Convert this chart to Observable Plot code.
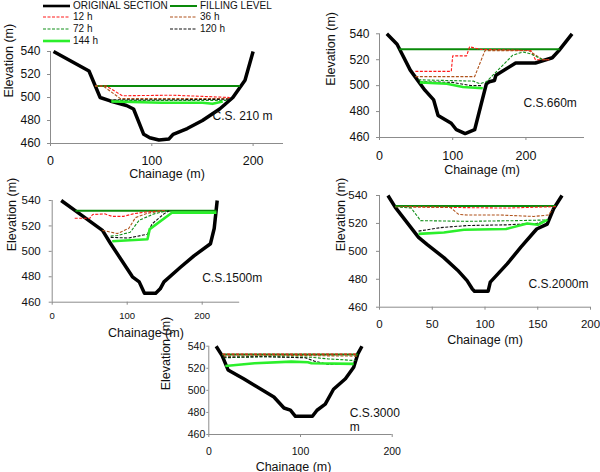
<!DOCTYPE html>
<html><head><meta charset="utf-8">
<script src="https://cdn.jsdelivr.net/npm/d3@7"></script>
<script src="https://cdn.jsdelivr.net/npm/@observablehq/plot@0.6"></script>
<style>
html,body{margin:0;padding:0;background:#fff;}
#chart{position:relative;width:600px;height:472px;overflow:hidden;font-family:"Liberation Sans",Arial,sans-serif;}
.panel{position:absolute;}
.leg{position:absolute;display:flex;align-items:center;font-size:10px;line-height:10px;white-space:nowrap;color:#111;}
.leg svg{display:block;margin-right:2px;}
</style></head><body><div id="chart"></div><script>
// ---- series ----
const seriesNames = ["ORIGINAL SECTION", "FILLING LEVEL", "12 h", "36 h", "72 h", "120 h", "144 h"];
const yTicks = [460, 480, 500, 520, 540];
const panelNames = ["C.S. 210 m", "C.S.660m", "C.S.1500m", "C.S.2000m", "C.S.3000\nm"];

// C.S. 210 m
const cs210_section = [[3,540],[38,523],[49,500],[59,497],[75,493],[82,490],[92,468],[98,465],[107,463],[117,464],[121,468],[135,473],[150,480],[167,490],[180,500],[192,515],[200,540]];
const cs210_fill = [[44,510],[187,510]];
const cs210_h12 = [[44,510],[55,510],[71,501.5],[120,502],[150,501],[177,500]];
const cs210_h36 = [[44,510],[52,510],[69,499],[120,499],[177,499]];
const cs210_h72 = [[60,497.5],[120,497.5],[175,497.5]];
const cs210_h120 = [[62,498],[120,498],[178,498.5]];
const cs210_h144 = [[60,496.5],[110,495.5],[150,495.5],[160,494.5],[170,496.5]];

// C.S. 660 m
const cs660_section = [[10,540],[24,532],[42,512],[62,496.5],[74,489],[80,477],[98,471],[105,466],[117,463],[130,466],[139,486],[146,501.5],[150,503],[157,504],[159,508],[186,517.5],[213,517.5],[236,521.5],[245,527],[263,540]];
const cs660_fill = [[27,528],[246,528]];
const cs660_h12 = [[49,511],[98,511],[100,523],[119,523],[123,530],[137,528],[207,527],[213,520],[232,520]];
const cs660_h36 = [[49,507],[130,507],[144,527],[204,527],[223,520],[232,520]];
const cs660_h72 = [[53,504.5],[128,503.5],[137,501.5],[146,503],[182,523.5],[196,526],[207,524.5],[223,520]];
const cs660_h120 = [[55,503],[100,502.5],[125,500],[140,500]];
const cs660_h144 = [[55,502.5],[92,501.5],[114,499],[141,498]];

// C.S. 1500 m
const cs1500_section = [[12,540],[33,531],[67,516.5],[78,506],[107,480],[116,476],[123,467],[138,467],[144,470.5],[149,476],[171,487.5],[189,496.5],[211,506],[216,518],[220,540]];
const cs1500_fill = [[31,532],[219,532]];
const cs1500_h12 = [[30,526],[50,526],[54,529],[70,529.5],[80,527.5],[95,527.5],[108,529.5],[125,531],[150,532]];
const cs1500_h36 = [[67,516.5],[87,514],[102,518],[111,526.5],[127,530],[150,532]];
const cs1500_h72 = [[78,512],[87,512.5],[104,515],[116,524.5],[136,529.5],[153,532]];
const cs1500_h120 = [[78,511],[102,510.5],[127,513.5],[133,521.5],[149,529.5],[156,532]];
const cs1500_h144 = [[80,508],[127,509.5],[130,517.5],[160,530.5],[219,530.5]];

// C.S. 2000 m
const cs2000_section = [[8,540],[15,531.5],[37,510],[45,505],[61,495.5],[74,486.5],[83,479],[88,473],[90,471.5],[103,471.5],[105,478],[121,491],[134,503],[149,516],[159,519.5],[165,530.5],[173,540]];
const cs2000_fill = [[15,532.5],[167,532.5]];
const cs2000_h12 = [[15,532],[60,531.5],[120,531],[167,532]];
const cs2000_h36 = [[15,532],[67,531.5],[75,526.5],[83,526],[115,526],[146,525],[160,526],[164,530]];
const cs2000_h72 = [[15,532],[30,531],[39,522],[83,521.5],[130,522],[160,522.5]];
const cs2000_h120 = [[37,514.5],[58,517],[83,518.5],[121,519],[149,520],[160,522.5]];
const cs2000_h144 = [[37,512.5],[61,513.5],[80,515.5],[120,516],[140,520],[150,519],[159,522.5]];

// C.S. 3000 m
const cs3000_section = [[8,540],[14.5,531.5],[21,518.5],[38,510.5],[71,494],[82,484],[89,482],[94.5,476.5],[113,476.5],[118,482],[127,487.5],[136,501],[149,510.5],[158,521],[162.5,533],[167,540]];
const cs3000_fill = [[14.5,532.5],[162.5,532.5]];
const cs3000_h12 = [[15,532.8],[162,532.8]];
const cs3000_h36 = [[16,531],[100,531.5],[162,531]];
const cs3000_h72 = [[16,529.5],[60,530.5],[112,530],[130,528.5],[160,527]];
const cs3000_h120 = [[16,530],[60,530.5],[105,529.5],[115,526.5],[130,523.5],[150,524]];
const cs3000_h144 = [[18,522],[50,524.5],[90,526],[108,525.5],[112,524.5],[158,524]];

// ---- styles ----
const seriesStyle = [
  {stroke: "#000", strokeWidth: 3.5},
  {stroke: "#0a8a0a", strokeWidth: 2},
  {stroke: "#ff1a1a", strokeWidth: 1.1, strokeDasharray: "3,1.5"},
  {stroke: "#b0531c", strokeWidth: 1.1, strokeDasharray: "3,1.5"},
  {stroke: "#12901a", strokeWidth: 1.1, strokeDasharray: "3,1.5"},
  {stroke: "#111", strokeWidth: 1.1, strokeDasharray: "3,1.5"},
  {stroke: "#2bef2b", strokeWidth: 2.6}
];

const panels = [
  {data:[cs210_section,cs210_fill,cs210_h12,cs210_h36,cs210_h72,cs210_h120,cs210_h144], xDomain:[0,230], xTicks:[0,100,200],
   left:0, top:40, width:300, height:145, mL:50, mR:17, mT:11, mB:42,
   xFont:12.5, xPad:10, yFont:12, ySize:3, yPad:7, nameDx:162, nameDy:64, xTitleDy:30.5, xTitleDx:0, yTitleDx:42},
  {data:[cs660_section,cs660_fill,cs660_h12,cs660_h36,cs660_h72,cs660_h120,cs660_h144], xDomain:[0,280], xTicks:[0,100,200],
   left:300, top:20, width:300, height:160, mL:79, mR:16, mT:13.3, mB:43,
   xFont:12.5, xPad:11, yFont:12, ySize:3, yPad:7, nameDx:144, nameDy:68.4, xTitleDy:32, xTitleDx:0, yTitleDx:49},
  {data:[cs1500_section,cs1500_fill,cs1500_h12,cs1500_h36,cs1500_h72,cs1500_h120,cs1500_h144], xDomain:[0,250], xTicks:[0,100,200],
   left:0, top:190, width:300, height:155, mL:51.7, mR:60.8, mT:10, mB:43.3,
   xFont:9.5, xPad:7, yFont:11.5, ySize:3, yPad:8.5, nameDx:150, nameDy:77, xTitleDy:31, xTitleDx:0, yTitleDx:40},
  {data:[cs2000_section,cs2000_fill,cs2000_h12,cs2000_h36,cs2000_h72,cs2000_h120,cs2000_h144], xDomain:[0,200], xTicks:[0,50,100,150,200],
   left:300, top:185, width:300, height:165, mL:79, mR:10, mT:10, mB:43.3,
   xFont:11.5, xPad:10, yFont:11.5, ySize:3, yPad:9, nameDx:149, nameDy:88, xTitleDy:33, xTitleDx:0, yTitleDx:39},
  {data:[cs3000_section,cs3000_fill,cs3000_h12,cs3000_h36,cs3000_h72,cs3000_h120,cs3000_h144], xDomain:[0,200], xTicks:[0,100,200],
   left:140, top:335, width:300, height:137, mL:68.3, mR:48.3, mT:10.7, mB:38,
   xFont:10.5, xPad:10, yFont:10.5, ySize:2, yPad:1.5, nameDx:141, nameDy:73, xTitleDy:32, xTitleDx:-7, yTitleDx:43}
];

const chart = document.getElementById("chart");

panels.forEach((p, i) => {
  const marks = [
    Plot.ruleX([p.xDomain[0]], {stroke: "#8c8c8c"}),
    Plot.ruleY([460], {stroke: "#8c8c8c"}),
    Plot.axisX({ticks: p.xTicks, tickSize: 3, tickPadding: p.xPad, fontSize: p.xFont, stroke: "#8c8c8c", fill: "#111", label: null}),
    Plot.axisY({ticks: yTicks, tickSize: p.ySize, tickPadding: p.yPad, fontSize: p.yFont, stroke: "#8c8c8c", fill: "#111", label: null})
  ];
  p.data.forEach((series, k) => {
    marks.push(Plot.line(series, {x: d => d[0], y: d => d[1], strokeLinejoin: "round", strokeLinecap: "butt", ...seriesStyle[k]}));
  });
  marks.push(Plot.text([panelNames[i]], {text: d => d, frameAnchor: "top-left", lineAnchor: "middle", dx: p.nameDx, dy: p.nameDy, textAnchor: "start", fontSize: 12, lineHeight: 1.25, fill: "#111"}));
  marks.push(Plot.text(["Chainage (m)"], {text: d => d, frameAnchor: "bottom", lineAnchor: "middle", dx: p.xTitleDx, dy: p.xTitleDy, fontSize: 12.5, fill: "#111"}));
  marks.push(Plot.text(["Elevation (m)"], {text: d => d, frameAnchor: "left", lineAnchor: "middle", dx: -p.yTitleDx, rotate: -90, fontSize: 12.5, fill: "#111"}));

  const svg = Plot.plot({
    width: p.width, height: p.height,
    marginLeft: p.mL, marginRight: p.mR, marginTop: p.mT, marginBottom: p.mB,
    x: {domain: p.xDomain},
    y: {domain: [460, 540]},
    style: {background: "transparent", overflow: "visible", fontFamily: "'Liberation Sans', Arial, sans-serif", maxWidth: "none"},
    marks
  });
  const div = document.createElement("div");
  div.className = "panel";
  div.style.left = p.left + "px";
  div.style.top = p.top + "px";
  div.style.width = p.width + "px";
  div.style.height = p.height + "px";
  div.appendChild(svg);
  chart.appendChild(div);
});

// ---- legend ----
const legendPos = [[43,6],[170,6],[43,17],[170,17],[43,29],[170,29],[43,41]];
seriesNames.forEach((name, k) => {
  const st = seriesStyle[k];
  const d = document.createElement("div");
  d.className = "leg";
  d.style.left = legendPos[k][0] + "px";
  d.style.top = (legendPos[k][1] - 5) + "px";
  const w = Math.min(st.strokeWidth, 2.6);
  d.innerHTML = `<svg width="28" height="10"><line x1="0" x2="27" y1="5" y2="5" stroke="${st.stroke}" stroke-width="${k === 0 ? 2.6 : w}" ${st.strokeDasharray ? `stroke-dasharray="${st.strokeDasharray}"` : ""}/></svg><span>${name}</span>`;
  chart.appendChild(d);
});
</script></body></html>
